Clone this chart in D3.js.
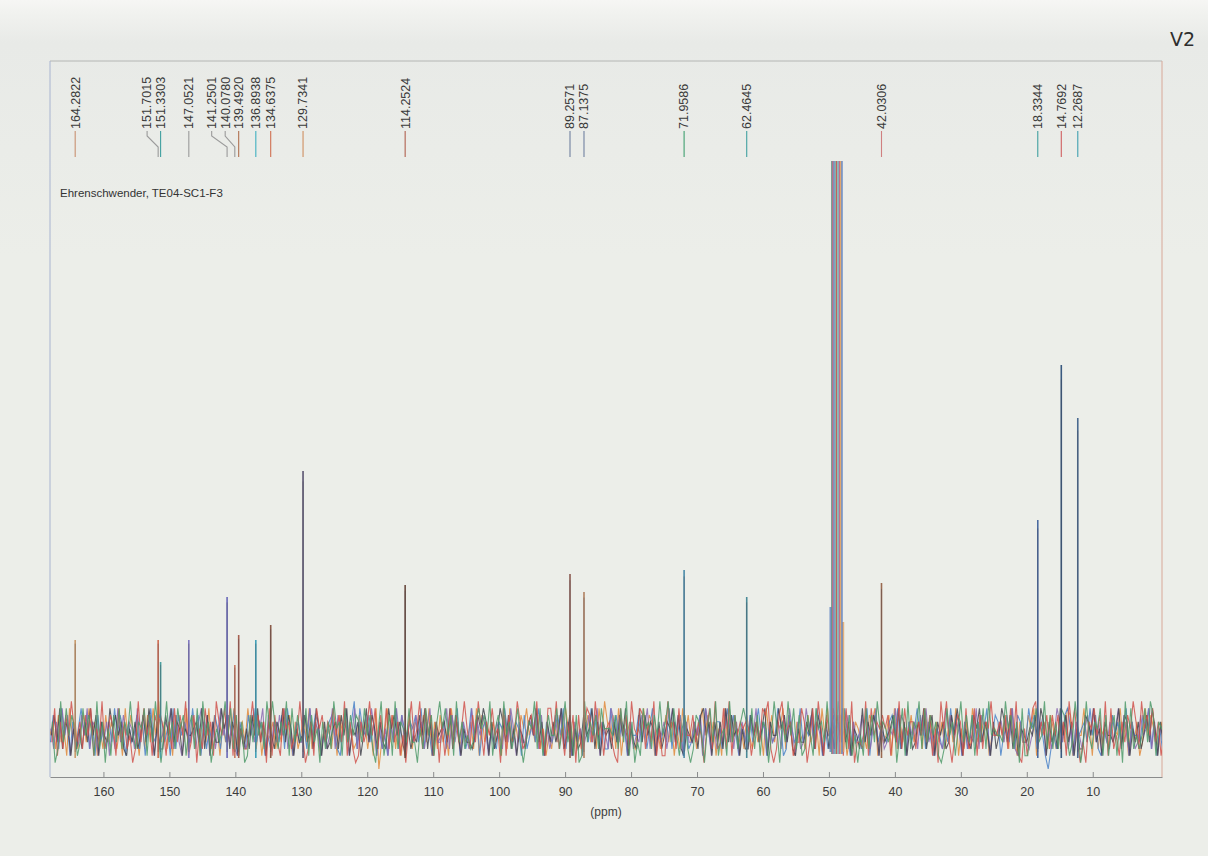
<!DOCTYPE html>
<html>
<head>
<meta charset="utf-8">
<script src="https://cdn.jsdelivr.net/npm/d3@7"></script>
<style>
  html, body { margin: 0; padding: 0; background: #eceee9; }
  svg { display: block; }
</style>
</head>
<body>
<svg id="chart" width="1208" height="856"></svg>
<script>
// 13C NMR peak list (ppm) and peak intensities (arbitrary units)
const peakShifts = [164.2822, 151.7015, 151.3303, 147.0521, 141.2501, 140.0780, 139.4920, 136.8938, 134.6375,
                    129.7341, 114.2524, 89.2571, 87.1375, 71.9586, 62.4645, 42.0306, 18.3344, 14.7692, 12.2687];
const peakHeights = [92, 92, 70, 92, 135, 67, 97, 92, 107,
                     261, 147, 158, 140, 162, 135, 149, 212, 367, 314];

// CD3OD solvent multiplet (off-scale lines) and its broad foot
const solventShifts = [49.55, 49.40, 49.22, 49.02, 48.82, 48.60, 48.40, 48.20, 48.02];
const solventHeights = [900, 1200, 1500, 1700, 1500, 1200, 900, 700, 600];
const solventFootShifts = [49.75, 47.85];
const solventFootHeights = [125, 110];

// x-axis labels (ppm)
const axisTicks = [160, 150, 140, 130, 120, 110, 100, 90, 80, 70, 60, 50, 40, 30, 20, 10];

// baseline noise, one string per overlaid trace (digit 0-9 = level, a/b = spikes)
const noiseTraces = [
  "4627351846 2573846152 7364251837 4516273849 3625174638 2746153827 5163748256 3847261534 6253847162 4738265143" +
  "5261748352 37462518b3 4837261547 2654738162 7351846253 4628173546 3517284637 5846372514 2637485162 4157362849" +
  "6372815463 2548376152 4736152847 3625847361 5184736252 7426351847 3658274163 4273561848 2867351426 5342768153" +
  "4718263547 3562847163 6247381526 2853746145 4637285163 3758164627 5246387154 4836172545 2754836163 6138475246",
  "3752846162 5847261735 2638475163 4726158347 6351827464 3847162537 5263748163 2748365142 4637285156 3528476143" +
  "6742158369 2854736152 4163827546 5738264153 3625748162 4837156243 2658473651 7246385164 3574826153 5163847262" +
  "2847365164 4736258153 5382647162 3647185246 6258374154 2735846163 4861275348 3547286152 5726384163 4258167354" +
  "3674825163 5847263154 2538476162 4726358147 6145382763 38572641b2 4263785164 5638472153 2746358164 4375826152",
  "5263847152 3748265163 6152837465 2837465153 4658273164 3526847162 5847362154 2463758172 6374825163 3758264152" +
  "4827365148 2647385162 5163847256 3746258153 4582736164 2836475152 6427385163 3564827152 4738265163 5247368154" +
  "2863745162 4375826154 6258374163 3647285152 5384726164 2748365153 4627385162 3857264154 5263847163 4736258152" +
  "3548276164 6274835153 2857364162 4382756154 5637482163 3246857152 4863725164 2574836153 6358274162 3745826154",
  "4738265152 5263847164 3857462153 6247385162 2748365154 4563827163 3857264152 5274836164 2648375153 4736285162" +
  "3562748154 6148375263 2857463152 4374826164 5638274153 3247586162 4863725154 2574836163 6358247152 3745826164" +
  "5263748153 2837465162 4658372154 3527846163 6283745152 2746358164 4857362153 3648275162 5274836154 2836475163" +
  "4573826152 3648257164 6237485153 2758364162 4863725154 3547286163 5284736152 2764835164 4358276153 6247385162",
  "3816274953 6274815392 4751836240 2938461757 5162837491 3705284619 6483917252 2594736081 7318562449 4026185736" +
  "5847391620 1635948273 8273614059 3592847160 6148273595 2739516484 5081734962 3674925188 4925163707 2587394615" +
  "6310847295 4872639151 1956283744 7364058292 3829174656 5146387920 2794561338 6038295174 4567182903 3291846575" +
  "7153928466 2648371509 5930476182 3817265944 6472839105 1589364727 4726195830 3065847291 8241637596 2957483614",
  "6029384751 3847519260 5173826494 2658173940 4936285715 7281946035 3594827160 1738462959 5264918373 4817350626" +
  "2956183747 6384720591 4719265383 3052847169 5847193624 2368574915 7194625830 3659281474 4825936170 1936472855" +
  "5472839160 3185627494 6938415720 2764058391 4519372686 3827165049 5063948271 2741856393 6395827140 4182739565" +
  "3570481926 5928374610 2846159373 7163829454 4395726081 1658349272 6287413950 3942658171 5716093824 2483971656"
];

// ---- styling ----
const traceColors = ["#e08a3c", "#4a82c8", "#8a68b0", "#45454f", "#d0524c", "#4f9a6a"];
const peakColors = ["#c89a6a", "#d06a50", "#4aa0a0", "#8078c0", "#6868b8", "#c87860", "#a86050", "#40a0b8", "#8a5a48",
                    "#5a5470", "#6a4a40", "#8a5a50", "#b08060", "#4a8aa8", "#4a8a98", "#9a6a50", "#4a6aa0", "#3a5a80", "#4a6a90"];
const tickColors = ["#c89070", "#9a9a9a", "#40a0a0", "#9a9a9a", "#9a9a9a", "#9a9a9a", "#b07050", "#40b0c0", "#d07050",
                    "#d09060", "#b06050", "#7080a0", "#7080a0", "#40a070", "#40a0a0", "#d08080", "#40a0a0", "#d06060", "#40a0b0"];
const solventColors = ["#5a8a7a", "#c06080", "#5a80c0", "#7ab0a0", "#c05050", "#60c0c0", "#c06080", "#e0a060", "#5a80c0"];
const fontStack = "'Liberation Sans', Arial, sans-serif";

const svg = d3.select("#chart");
const W = 1208, H = 856;
const plot = { left: 50, right: 1162, top: 61, bottom: 777 };

// paper background
const defs = svg.append("defs");
const paper = defs.append("linearGradient").attr("id", "paper").attr("x1", 0).attr("y1", 0).attr("x2", 0).attr("y2", 1);
paper.append("stop").attr("offset", "0").attr("stop-color", "#f6f6f4");
paper.append("stop").attr("offset", "0.015").attr("stop-color", "#f1f2ef");
paper.append("stop").attr("offset", "0.05").attr("stop-color", "#e8eae7");
paper.append("stop").attr("offset", "0.3").attr("stop-color", "#eceee9");
paper.append("stop").attr("offset", "1").attr("stop-color", "#eceee9");
svg.append("rect").attr("width", W).attr("height", H).attr("fill", "url(#paper)");

defs.append("clipPath").attr("id", "plotClip")
  .append("rect").attr("x", plot.left).attr("y", 161).attr("width", plot.right - plot.left).attr("height", 640);

const x = d3.scaleLinear().domain([168.1, -0.5]).range([plot.left, plot.right]);
const y = d3.scaleLinear().domain([-45, 571]).range([plot.bottom, 161]);

// frame
svg.append("line").attr("x1", plot.left).attr("x2", plot.right).attr("y1", plot.top).attr("y2", plot.top)
  .attr("stroke", "#b4b6b4").attr("stroke-width", 1);
svg.append("line").attr("x1", plot.left).attr("x2", plot.left).attr("y1", plot.top).attr("y2", plot.bottom)
  .attr("stroke", "#a8b4d0").attr("stroke-width", 1);
svg.append("line").attr("x1", plot.right).attr("x2", plot.right).attr("y1", plot.top).attr("y2", plot.bottom)
  .attr("stroke", "#d8a898").attr("stroke-width", 1);

// spectrum
const spec = svg.append("g").attr("clip-path", "url(#plotClip)");
const levelOf = c => c === "a" ? 38 : c === "b" ? -37 : (+c - 4.5) * 6.8;
const line = d3.line().x(d => x(d[0])).y(d => y(d[1]));
noiseTraces.forEach((str, k) => {
  const vals = str.replace(/\s+/g, "").split("").map(levelOf);
  const step = (x.domain()[0] - x.domain()[1]) / (vals.length - 1);
  const pts = vals.map((v, i) => [x.domain()[0] - (i + k / noiseTraces.length) * step, v]);
  spec.append("path").datum(pts).attr("d", line)
    .attr("fill", "none").attr("stroke", traceColors[k]).attr("stroke-width", 1.1).attr("stroke-opacity", 0.85);
});

// solvent lines
solventFootShifts.forEach((s, i) => {
  spec.append("line").attr("x1", x(s)).attr("x2", x(s)).attr("y1", y(-20)).attr("y2", y(solventFootHeights[i]))
    .attr("stroke", i ? "#e0a060" : "#5a80c0").attr("stroke-width", 2.2).attr("stroke-opacity", 0.8);
});
solventShifts.forEach((s, i) => {
  spec.append("line").attr("x1", x(s)).attr("x2", x(s)).attr("y1", y(-22)).attr("y2", y(solventHeights[i]))
    .attr("stroke", solventColors[i]).attr("stroke-width", 1.5).attr("stroke-opacity", 0.9);
});

// peaks
peakShifts.forEach((s, i) => {
  spec.append("line").attr("x1", x(s)).attr("x2", x(s)).attr("y1", y(-26)).attr("y2", y(peakHeights[i]))
    .attr("stroke", peakColors[i]).attr("stroke-width", 1.6);
  spec.append("line").attr("x1", x(s)).attr("x2", x(s)).attr("y1", y(-20)).attr("y2", y(peakHeights[i] * 0.96))
    .attr("stroke", "#4a4650").attr("stroke-width", 0.6).attr("stroke-opacity", 0.6);
});

// x axis
const axisG = svg.append("g").attr("transform", `translate(0,${plot.bottom})`);
axisG.call(d3.axisBottom(x).tickValues(d3.range(0, 168, 1)).tickSizeInner(-3).tickSizeOuter(0).tickFormat(""));
axisG.call(d3.axisBottom(x).tickValues(axisTicks).tickSizeInner(-5).tickSizeOuter(0).tickPadding(10)
  .tickFormat(d3.format("d")));
axisG.selectAll("path.domain").attr("stroke", "#8a8c8c");
axisG.selectAll(".tick line").attr("stroke", "#8a8c8c");
axisG.selectAll("text").attr("font-family", fontStack).attr("font-size", 12.5).attr("fill", "#3c3c3c");
svg.append("text").attr("x", (plot.left + plot.right) / 2).attr("y", 816).attr("text-anchor", "middle")
  .attr("font-family", fontStack).attr("font-size", 12).attr("fill", "#3c3c3c").text("(ppm)");

// peak labels, spread apart where they would overlap
const minGap = 13.5;
const labelX = new Array(peakShifts.length);
for (let i = peakShifts.length - 1; i >= 0; i--) {
  const px = x(peakShifts[i]);
  labelX[i] = (i === peakShifts.length - 1) ? px : Math.min(px, labelX[i + 1] - minGap);
}
const fmt = d3.format(".4f");
const labelG = svg.append("g");
const connector = d3.line();
peakShifts.forEach((s, i) => {
  const px = x(s), lx = labelX[i];
  const pts = Math.abs(px - lx) < 0.5 ? [[px, 131], [px, 157]] : [[lx, 131], [lx, 136], [px, 147], [px, 157]];
  labelG.append("path").attr("d", connector(pts)).attr("fill", "none")
    .attr("stroke", tickColors[i]).attr("stroke-width", 1.1);
  labelG.append("text").attr("transform", `translate(${lx},129) rotate(-90)`)
    .attr("dy", "0.35em").attr("font-family", fontStack).attr("font-size", 12.5).attr("fill", "#3a3a3a")
    .text(fmt(s));
});

// sample annotation
svg.append("text").attr("x", 60).attr("y", 197).attr("font-family", fontStack).attr("font-size", 11.5)
  .attr("fill", "#333").text("Ehrenschwender, TE04-SC1-F3");

// page mark
svg.append("text").attr("x", 1170).attr("y", 46).attr("font-family", "'DejaVu Sans', sans-serif")
  .attr("font-size", 19).attr("fill", "#2e2e2e").text("V2");
</script>
</body>
</html>
